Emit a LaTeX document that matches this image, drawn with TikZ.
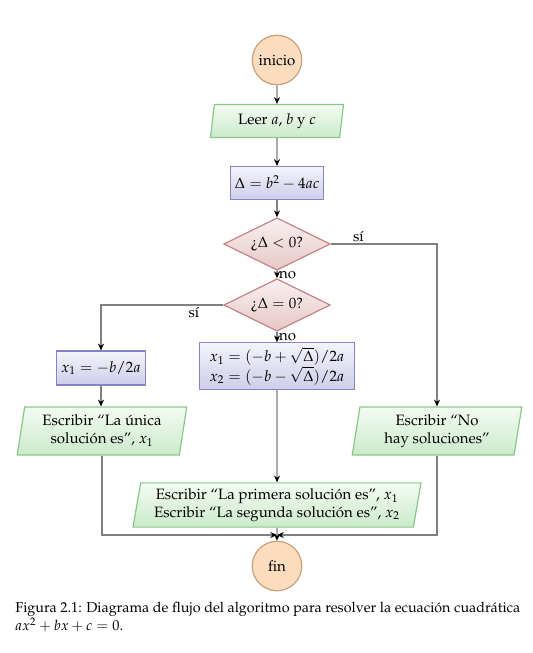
\documentclass[tikz,border=0pt]{standalone}
\usepackage[T1]{fontenc}
\usepackage{mathpazo}
\usetikzlibrary{shapes.geometric,arrows.meta}

\definecolor{termfill}{HTML}{FCDCBE}
\definecolor{termdraw}{HTML}{C9A07E}
\definecolor{iotop}{HTML}{F4FBF3}
\definecolor{iobottom}{HTML}{CBEACA}
\definecolor{iodraw}{HTML}{88C888}
\definecolor{proctop}{HTML}{F4F4FB}
\definecolor{procbottom}{HTML}{CDCDEA}
\definecolor{procdraw}{HTML}{8484C6}
\definecolor{dectop}{HTML}{FAF1F1}
\definecolor{decbottom}{HTML}{E6C6C6}
\definecolor{decdraw}{HTML}{C48484}
\definecolor{flowline}{HTML}{808080}

\tikzset{
  terminal/.style={circle, draw=termdraw, fill=termfill, line width=0.8pt,
    minimum size=33pt, inner sep=1pt},
  iobox/.style={trapezium, trapezium left angle=78, trapezium right angle=102,
    trapezium stretches body, draw=iodraw, top color=iotop, bottom color=iobottom,
    line width=0.8pt, align=center, inner sep=1pt},
  procbox/.style={rectangle, draw=procdraw, top color=proctop, bottom color=procbottom,
    line width=0.8pt, align=center, inner sep=1pt},
  decbox/.style={diamond, aspect=2, draw=decdraw, top color=dectop, bottom color=decbottom,
    line width=0.8pt, inner sep=0pt},
  flow/.style={draw=flowline, line width=0.8pt, -{Stealth[color=black,length=4.5pt,width=4pt]}},
  lbl/.style={inner sep=1pt, font=\normalsize}
}

\begin{document}
\begin{tikzpicture}[x=0.6667pt, y=-0.6667pt]
  \useasboundingbox (0,0) rectangle (533,653);

  % nodes of the flowchart
  \node[terminal] (inicio) at (277,60) {inicio};
  \node[iobox, minimum width=88.7pt, minimum height=22pt] (leer) at (277,121)
    {Leer $a$, $b$ y $c$};
  \node[procbox, minimum width=62pt, minimum height=22pt] (delta) at (277,183)
    {$\Delta = b^2 - 4ac$};
  \node[decbox, minimum width=71pt, minimum height=35pt] (neg) at (277,244)
    {?`$\Delta < 0$?};
  \node[decbox, minimum width=71pt, minimum height=35pt] (zero) at (277,305)
    {?`$\Delta = 0$?};
  \node[procbox, minimum width=103pt, minimum height=31pt] (roots) at (277,366)
    {$x_1 = (-b+\sqrt{\Delta})/2a$\\ $x_2 = (-b-\sqrt{\Delta})/2a$};
  \node[procbox, minimum width=59pt, minimum height=22.7pt] (single) at (101,368)
    {$x_1 = -b/2a$};
  \node[iobox, minimum width=113pt, minimum height=32pt] (unica) at (102,431)
    {Escribir ``La \'unica\\ soluci\'on es'', $x_1$};
  \node[iobox, minimum width=113pt, minimum height=32pt] (nosol) at (437,431)
    {Escribir ``No\\ hay soluciones''};
  \node[iobox, minimum width=192pt, minimum height=29.5pt] (ambas) at (277,505)
    {Escribir ``La primera soluci\'on es'', $x_1$\\
     Escribir ``La segunda soluci\'on es'', $x_2$};
  \node[terminal] (fin) at (277,566) {fin};
  \coordinate (merge) at (277,535);

  % connectors
  \draw[flow] (inicio) -- (leer);
  \draw[flow] (leer) -- (delta);
  \draw[flow] (delta) -- (neg);
  \draw[flow] (neg) -- node[lbl, anchor=west, pos=0.62] {no} (zero);
  \draw[flow] (neg.east) -| node[lbl, above, pos=0.13] {s\'{\i}} (nosol.north);
  \draw[flow] (zero) -- node[lbl, anchor=west, pos=0.55] {no} (roots);
  \draw[flow] (zero.west) -| node[lbl, below, pos=0.12] {s\'{\i}} (single.north);
  \draw[flow] (single) -- (single |- unica.north);
  \draw[flow] (roots) -- (ambas);
  \draw[flow] (unica.south) |- (merge);
  \draw[flow] (nosol.south) |- (merge);
  \draw[flow] (ambas) -- (fin);

  % caption
  \node[anchor=north west, inner sep=0pt, align=left,
        font=\fontsize{9.55}{12}\selectfont] (caption) at (15,602)
    {Figura 2.1: Diagrama de flujo del algoritmo para resolver la ecuaci\'on cuadr\'atica\\
     $ax^2 + bx + c = 0$.};
\end{tikzpicture}
\end{document}
